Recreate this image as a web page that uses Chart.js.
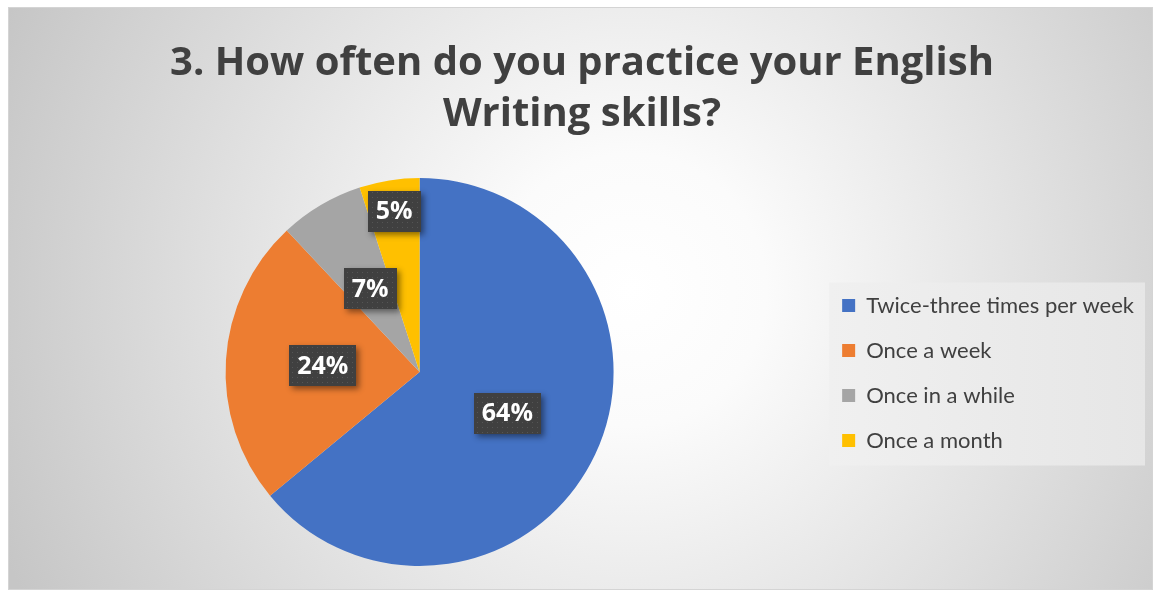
<!DOCTYPE html>
<html><head><meta charset="utf-8">
<script src="https://cdn.jsdelivr.net/npm/chart.js@4.4.0/dist/chart.umd.min.js"></script>
<style>html,body{margin:0;padding:0;background:#fff;overflow:hidden}#wrap{width:1159px;height:592px;position:relative}</style>
</head><body><div id="wrap"><canvas id="c" width="1159" height="592"></canvas></div>
<script>
const categories = ["Twice-three times per week", "Once a week", "Once in a while", "Once a month"];
const percentages = [64, 24, 7, 5];
const titleLines = ["3. How often do you practice your English", "Writing skills?"];
const sliceColors = ["#4472C4", "#ED7D31", "#A5A5A5", "#FFC000"];
const labelRadius = [0.5, 0.5, 0.5, 0.84];

const bgPlugin = {
  id: 'bg',
  beforeDraw(chart) {
    const ctx = chart.ctx;
    ctx.save();
    ctx.fillStyle = '#fff';
    ctx.fillRect(0, 0, chart.width, chart.height);
    const g = ctx.createRadialGradient(630, 290, 0, 630, 290, 680);
    g.addColorStop(0, '#ffffff');
    g.addColorStop(0.2, '#fbfbfb');
    g.addColorStop(1, '#c6c6c6');
    ctx.fillStyle = g;
    ctx.fillRect(8, 7, 1145, 583);
    ctx.strokeStyle = '#d4d4d4';
    ctx.lineWidth = 1;
    ctx.strokeRect(8.5, 7.5, 1144, 582);
    const lg = chart.legend;
    if (lg && lg.legendHitBoxes && lg.legendHitBoxes.length) {
      const hb = lg.legendHitBoxes;
      let right = 0;
      hb.forEach(h => { right = Math.max(right, h.left + h.width); });
      const x0 = hb[0].left - 13, y0 = hb[0].top - 12;
      const last = hb[hb.length - 1];
      const x1 = right + 11, y1 = last.top + last.height + 14;
      const lgG = ctx.createLinearGradient(x0, 0, x1, 0);
      lgG.addColorStop(0, '#f0f0f0');
      lgG.addColorStop(1, '#e6e6e6');
      ctx.fillStyle = lgG;
      ctx.fillRect(x0, y0, x1 - x0, y1 - y0);
    }
    ctx.restore();
  }
};

let pattern = null;
function getPattern(ctx) {
  if (pattern) return pattern;
  const pc = document.createElement('canvas');
  pc.width = 5; pc.height = 5;
  const p = pc.getContext('2d');
  p.fillStyle = '#404040';
  p.fillRect(0, 0, 5, 5);
  p.fillStyle = '#555555';
  p.fillRect(2, 2, 1, 1);
  pattern = ctx.createPattern(pc, 'repeat');
  return pattern;
}

const labelPlugin = {
  id: 'pctLabels',
  afterDatasetsDraw(chart) {
    const ctx = chart.ctx;
    const meta = chart.getDatasetMeta(0);
    const ds = chart.data.datasets[0];
    meta.data.forEach((arc, i) => {
      const p = arc.getProps(['x', 'y', 'startAngle', 'endAngle', 'outerRadius'], true);
      const mid = (p.startAngle + p.endAngle) / 2;
      const r = p.outerRadius * labelRadius[i];
      const cx = p.x + Math.cos(mid) * r, cy = p.y + Math.sin(mid) * r;
      const txt = ds.data[i] + '%';
      ctx.save();
      ctx.font = 'bold 25px "Open Sans"';
      const w = Math.round(ctx.measureText(txt).width + 16), h = 41;
      const bx = Math.round(cx - w / 2), by = Math.round(cy - h / 2);
      ctx.shadowColor = 'rgba(0,0,0,0.45)';
      ctx.shadowBlur = 6;
      ctx.shadowOffsetX = 3;
      ctx.shadowOffsetY = 3;
      ctx.fillStyle = '#404040';
      ctx.fillRect(bx, by, w, h);
      ctx.shadowColor = 'transparent';
      ctx.fillStyle = getPattern(ctx);
      ctx.fillRect(bx, by, w, h);
      ctx.fillStyle = '#ffffff';
      ctx.textAlign = 'center';
      ctx.textBaseline = 'middle';
      ctx.fillText(txt, cx, cy + 1);
      ctx.restore();
    });
  }
};

function build() {
  new Chart(document.getElementById('c'), {
    type: 'pie',
    data: {
      labels: categories,
      datasets: [{ data: percentages, backgroundColor: sliceColors, borderWidth: 0 }]
    },
    options: {
      responsive: false,
      animation: false,
      layout: { padding: { left: 20, right: 15, top: 0, bottom: 26 } },
      plugins: {
        title: {
          display: true,
          text: titleLines,
          color: '#404040',
          font: { family: 'Open Sans', size: 40, weight: 'bold', lineHeight: 1.275 },
          padding: { top: 38, bottom: 38 }
        },
        legend: {
          position: 'right',
          align: 'center',
          title: { display: true, text: '', font: { size: 10, lineHeight: 1 }, padding: { top: 170, bottom: 0 } },
          labels: {
            boxWidth: 13, boxHeight: 13, padding: 23,
            color: '#404040',
            font: { family: 'Lato', size: 22 }
          }
        },
        tooltip: { enabled: false }
      }
    },
    plugins: [bgPlugin, labelPlugin]
  });
}
Promise.all([
  document.fonts.load('bold 40px "Open Sans"'),
  document.fonts.load('bold 25px "Open Sans"'),
  document.fonts.load('22px Lato')
]).then(build, build);
</script>
</body></html>
